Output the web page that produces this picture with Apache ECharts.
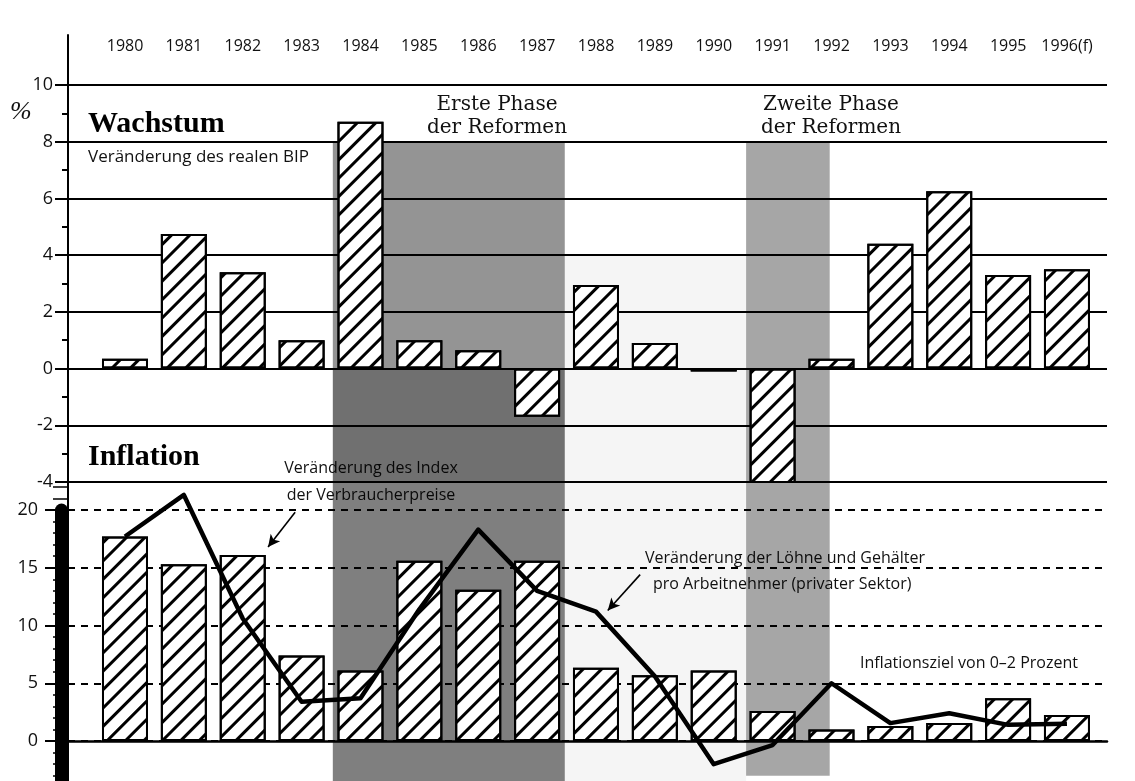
<!DOCTYPE html>
<html>
<head>
<meta charset="utf-8">
<script src="https://cdn.jsdelivr.net/npm/echarts@6/dist/echarts.min.js"></script>
<style>
  html, body { margin: 0; padding: 0; background: #fff; }
  #main { width: 1135px; height: 781px; }
</style>
</head>
<body>
<div id="main"></div>
<script>
// years on the top row
const years = ['1980', '1981', '1982', '1983', '1984', '1985', '1986', '1987', '1988',
  '1989', '1990', '1991', '1992', '1993', '1994', '1995', '1996(f)'];
// Wachstum: Veränderung des realen BIP (%)
const growth = [0.35, 4.75, 3.4, 1.0, 8.7, 1.0, 0.65, -1.7, 2.95, 0.9, -0.1, -4.3, 0.35, 4.4, 6.25, 3.3, 3.5];
// Löhne und Gehälter pro Arbeitnehmer (%)
const wages = [17.7, 15.3, 16.1, 7.4, 6.1, 15.6, 13.1, 15.6, 6.35, 5.7, 6.1, 2.6, 1.0, 1.3, 1.55, 3.7, 2.25];
// Verbraucherpreise (%)
const cpi = [17.7, 21.3, 10.6, 3.4, 3.7, 11.4, 18.3, 13.0, 11.2, 5.6, -2.0, -0.35, 5.0, 1.55, 2.4, 1.4, 1.5];
// tick labels
const growthTicks = [-4, -2, 0, 2, 4, 6, 8, 10];
const inflationTicks = [0, 5, 10, 15, 20];

const SANS = 'Open Sans';
const SERIF = 'Liberation Serif';

const hatch = {
  symbol: 'rect',
  symbolSize: 1,
  color: '#000',
  dashArrayX: [1, 0],
  dashArrayY: [2.2, 9.5],
  rotation: -Math.PI / 4
};

const chart = echarts.init(document.getElementById('main'));

const xRange = { min: -0.968, max: 16.68 };

const option = {
  backgroundColor: '#fff',
  animation: false,
  grid: [
    { left: 68, right: 28, top: 85, height: 397 },          // Wachstum
    { left: 68, right: 28, top: 482, height: 299 },         // Inflation
    { left: 95.6, width: 1000.9, top: 85, height: 1 },      // year labels
    { left: 68, right: 28, top: 35, height: 50 },           // axis line above 10
    { left: 68, right: 28, top: 510, height: 271 }          // thick axis bar
  ],
  xAxis: [
    { type: 'value', gridIndex: 0, min: xRange.min, max: xRange.max, show: false },
    {
      type: 'value', gridIndex: 1, min: xRange.min, max: xRange.max,
      axisLine: { show: true, onZero: true, lineStyle: { color: '#000', width: 2.5 } },
      axisTick: { show: false }, axisLabel: { show: false }, splitLine: { show: false }
    },
    {
      type: 'category', gridIndex: 2, data: years, position: 'top',
      axisLine: { show: false }, axisTick: { show: false },
      axisLabel: { interval: 0, margin: 31, fontFamily: SANS, fontSize: 16, color: '#111' }
    },
    { type: 'value', gridIndex: 3, show: false },
    { type: 'value', gridIndex: 4, show: false }
  ],
  yAxis: [
    {
      type: 'value', gridIndex: 0, min: -4, max: 10, interval: 2,
      axisLine: { show: true, onZero: false, lineStyle: { color: '#000', width: 2 } },
      axisTick: { show: true, length: 13, lineStyle: { color: '#000', width: 2 } },
      minorTick: { show: true, splitNumber: 2, length: 6, lineStyle: { color: '#000', width: 2 } },
      axisLabel: {
        margin: 15, fontFamily: SANS, fontSize: 18, color: '#111',
        formatter: v => growthTicks.includes(v) ? String(v) : ''
      },
      splitLine: { show: true, lineStyle: { color: '#000', width: 2 } }
    },
    {
      type: 'value', gridIndex: 1, min: -3.46, max: 22.42, splitNumber: 5,
      axisLine: { show: true, onZero: false, lineStyle: { color: '#000', width: 2 } },
      axisTick: { show: true, length: 23, customValues: inflationTicks, lineStyle: { color: '#000', width: 2 } },
      minorTick: { show: true, splitNumber: 5, length: 15, lineStyle: { color: '#000', width: 1.5 } },
      axisLabel: {
        margin: 30, fontFamily: SANS, fontSize: 18, color: '#111',
        customValues: inflationTicks,
        formatter: v => inflationTicks.includes(v) ? String(v) : ''
      },
      splitLine: {
        show: true, showMaxLine: true, showMinLine: true,
        lineStyle: { color: '#000', width: 2, type: [7, 6] }
      }
    },
    { type: 'value', gridIndex: 2, show: false },
    {
      type: 'value', gridIndex: 3,
      axisLine: { show: true, onZero: false, lineStyle: { color: '#000', width: 2 } },
      axisTick: { show: false }, axisLabel: { show: false }, splitLine: { show: false }
    },
    {
      type: 'value', gridIndex: 4, offset: 6.5,
      axisLine: { show: true, onZero: false, lineStyle: { color: '#000', width: 13 } },
      axisTick: { show: false }, axisLabel: { show: false }, splitLine: { show: false }
    }
  ],
  series: [
    {
      type: 'line', xAxisIndex: 0, yAxisIndex: 0, data: [], z: 1, silent: true,
      markArea: {
        silent: true,
        data: [
          [{ xAxis: 3.53, yAxis: 8, itemStyle: { color: 'rgba(0,0,0,0.42)' } }, { xAxis: 7.47, yAxis: 0 }],
          [{ xAxis: 3.53, yAxis: 0, itemStyle: { color: 'rgba(0,0,0,0.56)' } }, { xAxis: 7.47, yAxis: -4 }],
          [{ xAxis: 10.55, yAxis: 8, itemStyle: { color: 'rgba(0,0,0,0.35)' } }, { xAxis: 11.97, yAxis: -4 }],
          [{ xAxis: 7.47, yAxis: 4, itemStyle: { color: 'rgba(0,0,0,0.04)' } }, { xAxis: 10.55, yAxis: -4 }]
        ]
      }
    },
    {
      type: 'bar', name: 'Wachstum', xAxisIndex: 0, yAxisIndex: 0, z: 2, barWidth: 46,
      data: growth.map((v, i) => [i, v]),
      itemStyle: { color: '#fff', borderColor: '#000', borderWidth: 2, decal: hatch }
    },
    {
      type: 'line', xAxisIndex: 1, yAxisIndex: 1, data: [], z: 1, silent: true,
      markArea: {
        silent: true,
        data: [
          [{ xAxis: 3.53, yAxis: 22.42, itemStyle: { color: 'rgba(0,0,0,0.5)' } }, { xAxis: 7.47, yAxis: -3.46 }],
          [{ xAxis: 10.55, yAxis: 22.42, itemStyle: { color: 'rgba(0,0,0,0.35)' } }, { xAxis: 11.97, yAxis: -3.0 }],
          [{ xAxis: 7.47, yAxis: 22.42, itemStyle: { color: 'rgba(0,0,0,0.04)' } }, { xAxis: 10.55, yAxis: -3.46 }]
        ]
      }
    },
    {
      type: 'bar', name: 'Löhne', xAxisIndex: 1, yAxisIndex: 1, z: 2, barWidth: 46,
      data: wages.map((v, i) => [i, v]),
      itemStyle: { color: '#fff', borderColor: '#000', borderWidth: 2, decal: hatch }
    },
    {
      type: 'line', name: 'Verbraucherpreise', xAxisIndex: 1, yAxisIndex: 1, z: 3,
      data: cpi.map((v, i) => [i, v]),
      symbol: 'none',
      lineStyle: { color: '#000', width: 4.5, join: 'round' }
    },
    {
      type: 'line', xAxisIndex: 1, yAxisIndex: 1, data: [], z: 4, silent: true,
      markLine: {
        silent: true,
        symbol: ['none', 'arrow'],
        symbolSize: [9, 12],
        label: { show: false },
        lineStyle: { color: '#000', width: 1.6, type: 'solid' },
        data: [
          [{ coord: [2.89, 19.8] }, { coord: [2.43, 16.8] }],
          [{ coord: [8.75, 14.4] }, { coord: [8.2, 11.3] }]
        ]
      }
    }
  ],
  graphic: [
    { type: 'text', style: { x: 10, y: 112, text: '%', font: 'italic 26px "' + SERIF + '"', fill: '#111', verticalAlign: 'middle' } },
    { type: 'text', style: { x: 88, y: 124, text: 'Wachstum', font: 'bold 30px "' + SERIF + '"', fill: '#000', verticalAlign: 'middle' } },
    { type: 'text', style: { x: 88, y: 157, text: 'Veränderung des realen BIP', font: '17px "' + SANS + '"', fill: '#111', verticalAlign: 'middle' } },
    { type: 'text', style: { x: 497, y: 105, text: 'Erste Phase', font: '20px "DejaVu Serif"', fill: '#111', align: 'center', verticalAlign: 'middle' } },
    { type: 'text', style: { x: 497, y: 128, text: 'der Reformen', font: '20px "DejaVu Serif"', fill: '#111', align: 'center', verticalAlign: 'middle' } },
    { type: 'text', style: { x: 831, y: 105, text: 'Zweite Phase', font: '20px "DejaVu Serif"', fill: '#111', align: 'center', verticalAlign: 'middle' } },
    { type: 'text', style: { x: 831, y: 128, text: 'der Reformen', font: '20px "DejaVu Serif"', fill: '#111', align: 'center', verticalAlign: 'middle' } },
    { type: 'text', style: { x: 88, y: 457, text: 'Inflation', font: 'bold 30px "' + SERIF + '"', fill: '#000', verticalAlign: 'middle' } },
    { type: 'text', style: { x: 371, y: 468, text: 'Veränderung des Index', font: '16px "' + SANS + '"', fill: '#111', align: 'center', verticalAlign: 'middle' } },
    { type: 'text', style: { x: 371, y: 495, text: 'der Verbraucherpreise', font: '16px "' + SANS + '"', fill: '#111', align: 'center', verticalAlign: 'middle' } },
    { type: 'text', style: { x: 645, y: 558, text: 'Veränderung der Löhne und Gehälter', font: '16px "' + SANS + '"', fill: '#111', verticalAlign: 'middle' } },
    { type: 'text', style: { x: 653, y: 584, text: 'pro Arbeitnehmer (privater Sektor)', font: '16px "' + SANS + '"', fill: '#111', verticalAlign: 'middle' } },
    { type: 'text', style: { x: 860, y: 663, text: 'Inflationsziel von 0–2 Prozent', font: '16px "' + SANS + '"', fill: '#111', verticalAlign: 'middle' } }
  ]
};

chart.setOption(option);
</script>
</body>
</html>
